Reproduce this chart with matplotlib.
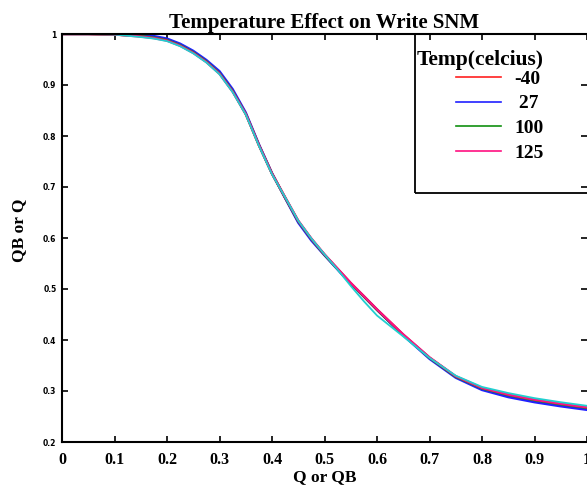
import matplotlib
matplotlib.use("Agg")
import matplotlib.pyplot as plt
from matplotlib.patches import Rectangle

# Data
q = [0.0, 0.05, 0.10, 0.15, 0.175, 0.20, 0.225, 0.25, 0.275, 0.30, 0.325, 0.35, 0.375, 0.40,
     0.425, 0.45, 0.475, 0.50, 0.525, 0.55, 0.575, 0.60, 0.65, 0.70, 0.75, 0.80, 0.85, 0.90, 0.95, 1.00]
qb_m40 = [1.0, 1.0, 0.999, 0.996, 0.993, 0.988, 0.978, 0.964, 0.946, 0.924, 0.889, 0.844, 0.783, 0.727,
          0.679, 0.632, 0.597, 0.567, 0.539, 0.511, 0.486, 0.460, 0.410, 0.365, 0.328, 0.305, 0.291, 0.281, 0.273, 0.266]
qb_27 = [1.0, 1.0, 1.0, 0.998, 0.996, 0.991, 0.981, 0.967, 0.949, 0.927, 0.892, 0.846, 0.784, 0.727,
         0.678, 0.630, 0.595, 0.566, 0.538, 0.510, 0.485, 0.459, 0.409, 0.363, 0.326, 0.302, 0.288, 0.278, 0.270, 0.263]
qb_100 = [1.0, 1.0, 0.999, 0.996, 0.993, 0.988, 0.978, 0.964, 0.946, 0.923, 0.888, 0.843, 0.782, 0.726,
          0.679, 0.633, 0.598, 0.567, 0.539, 0.511, 0.485, 0.459, 0.410, 0.365, 0.328, 0.305, 0.292, 0.282, 0.274, 0.267]
qb_125 = [1.0, 1.0, 0.999, 0.995, 0.992, 0.987, 0.977, 0.963, 0.945, 0.922, 0.887, 0.843, 0.782, 0.726,
          0.680, 0.634, 0.599, 0.568, 0.540, 0.512, 0.486, 0.460, 0.411, 0.366, 0.329, 0.306, 0.293, 0.283, 0.275, 0.268]
qb_cyan = [1.0, 1.0, 0.999, 0.994, 0.991, 0.986, 0.976, 0.962, 0.944, 0.921, 0.886, 0.842, 0.781, 0.725,
           0.680, 0.634, 0.599, 0.568, 0.538, 0.506, 0.476, 0.448, 0.407, 0.365, 0.330, 0.308, 0.296, 0.286, 0.278, 0.271]

labels = ["-40", " 27", "100", "125"]
colors = ["#ff2020", "#2020ff", "#109010", "#ff1080"]
xticks = [0, 0.1, 0.2, 0.3, 0.4, 0.5, 0.6, 0.7, 0.8, 0.9, 1.0]
xticklabels = ["0", "0.1", "0.2", "0.3", "0.4", "0.5", "0.6", "0.7", "0.8", "0.9", "1"]
yticks = [0.2, 0.3, 0.4, 0.5, 0.6, 0.7, 0.8, 0.9, 1.0]
yticklabels = ["0.2", "0.3", "0.4", "0.5", "0.6", "0.7", "0.8", "0.9", "1"]

serif = ["Liberation Serif", "DejaVu Serif"]

fig = plt.figure(figsize=(5.87, 4.92), dpi=100)
ax = fig.add_axes([62/587, 50/492, 525/587, 408/492])

series = [qb_m40, qb_27, qb_100, qb_125]
handles = []
for ys, c, lab in zip(series, colors, labels):
    h, = ax.plot(q, ys, color=c, lw=1.7, label=lab)
    handles.append(h)
ax.plot(q, qb_cyan, color="#20d0d0", lw=1.3)

ax.set_xlim(0, 1)
ax.set_ylim(0.2, 1.0)
ax.set_xticks(xticks)
ax.set_xticklabels(xticklabels, fontfamily=serif, fontweight="bold", fontsize=11.5)
ax.set_yticks(yticks)
ax.set_yticklabels(yticklabels, fontfamily="DejaVu Sans", fontweight="bold", fontsize=5.5)
ax.tick_params(direction="in", length=4, width=1.2, top=True, right=True, pad=4)
ax.tick_params(axis="x", pad=7)
for s in ["left", "bottom", "top"]:
    ax.spines[s].set_linewidth(1.5)
ax.spines["right"].set_visible(False)

ax.set_title("Temperature Effect on Write SNM", fontfamily=serif, fontweight="bold", fontsize=15, pad=4)
ax.set_xlabel("Q or QB", fontfamily=serif, fontweight="bold", fontsize=12.5, labelpad=1)
ax.set_ylabel("QB or Q", fontfamily=serif, fontweight="bold", fontsize=12.5)
ax.yaxis.set_label_coords(-0.066, 0.52)

# legend box
bx0 = (415 - 62) / 525
by0 = 1 - (193 - 34) / 408
ax.add_patch(Rectangle((bx0, by0), 1.0 - bx0 + 0.01, 1 - by0, transform=ax.transAxes,
                       fill=False, edgecolor="black", lw=1.3, clip_on=False, zorder=5))
leg = ax.legend(handles=handles, title="Temp(celcius)", loc="upper left",
                bbox_to_anchor=(bx0 - 0.004, 0.97), frameon=False,
                prop={"family": serif, "weight": "bold", "size": 14},
                handlelength=2.3, handletextpad=0.7, labelspacing=0.36,
                borderpad=0.2, borderaxespad=0.0)
leg.get_title().set_fontfamily(serif)
leg.get_title().set_fontweight("bold")
leg.get_title().set_fontsize(15.5)
leg._legend_box.align = "right"
leg._legend_box.sep = 0
for h in leg.legend_handles:
    h.set_linewidth(1.2)

fig.savefig("out.png", dpi=100)
